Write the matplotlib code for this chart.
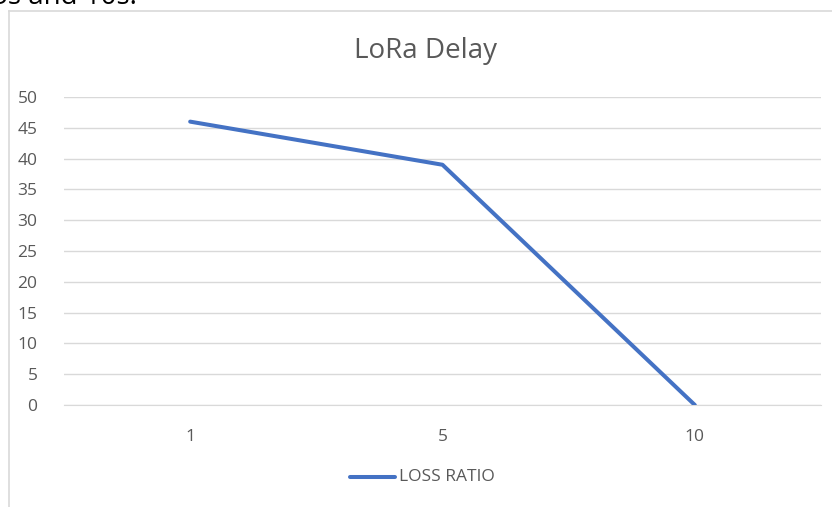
import matplotlib
matplotlib.use("Agg")
import matplotlib.pyplot as plt
from matplotlib.lines import Line2D

categories = ["1", "5", "10"]
loss_ratio = [46, 39, 0]
yticks = [0, 5, 10, 15, 20, 25, 30, 35, 40, 45, 50]
title = "LoRa Delay"
series_name = "LOSS RATIO"

W, H = 832, 507
fig = plt.figure(figsize=(W / 100, H / 100), dpi=100)
plt.rcParams['font.family'] = ['Open Sans', 'DejaVu Sans']

def fx(px):
    return px / W

def fy(py):
    return 1 - py / H

# Clipped text from the surrounding document (only its lower edge shows)
fig.text(fx(-8), fy(3.5), "5s and 10s.", fontsize=20, color="black", ha="left", va="baseline")

# chart border
fig.add_artist(Line2D([fx(8.5), fx(8.5)], [fy(11), fy(510)], color="#D9D9D9", lw=1.2))
fig.add_artist(Line2D([fx(8.5), fx(840)], [fy(11), fy(11)], color="#D9D9D9", lw=1.2))

left, right = 64, 821
top, bottom = 97, 405
ax = fig.add_axes([fx(left), fy(bottom), fx(right - left), (bottom - top) / H])
x = list(range(len(categories)))
ax.plot(x, loss_ratio, color="#4472C4", lw=2.9, solid_capstyle="round", solid_joinstyle="round", zorder=3)
ax.set_xlim(-0.5, len(categories) - 0.5)
ax.set_ylim(0, 50)
ax.set_yticks(yticks)
ax.set_xticks(x)
ax.set_xticklabels(categories)
ax.grid(axis="y", color="#D9D9D9", lw=1)
ax.set_axisbelow(True)
for s in ax.spines.values():
    s.set_visible(False)
ax.spines["bottom"].set_visible(True)
ax.spines["bottom"].set_color("#D9D9D9")
ax.tick_params(axis="both", length=0, labelsize=12.5, labelcolor="#595959")
ax.tick_params(axis="y", pad=19)
ax.tick_params(axis="x", pad=17)
ax.patch.set_alpha(0)

fig.text(fx(425), fy(51), title, fontsize=20, color="#595959", ha="center", va="center")

# legend
fig.add_artist(Line2D([fx(350), fx(395)], [fy(477), fy(477)], color="#4472C4", lw=2.9, solid_capstyle="round"))
fig.text(fx(399), fy(477), series_name, fontsize=12.5, color="#595959", ha="left", va="center")

fig.savefig("out.png", dpi=100)
